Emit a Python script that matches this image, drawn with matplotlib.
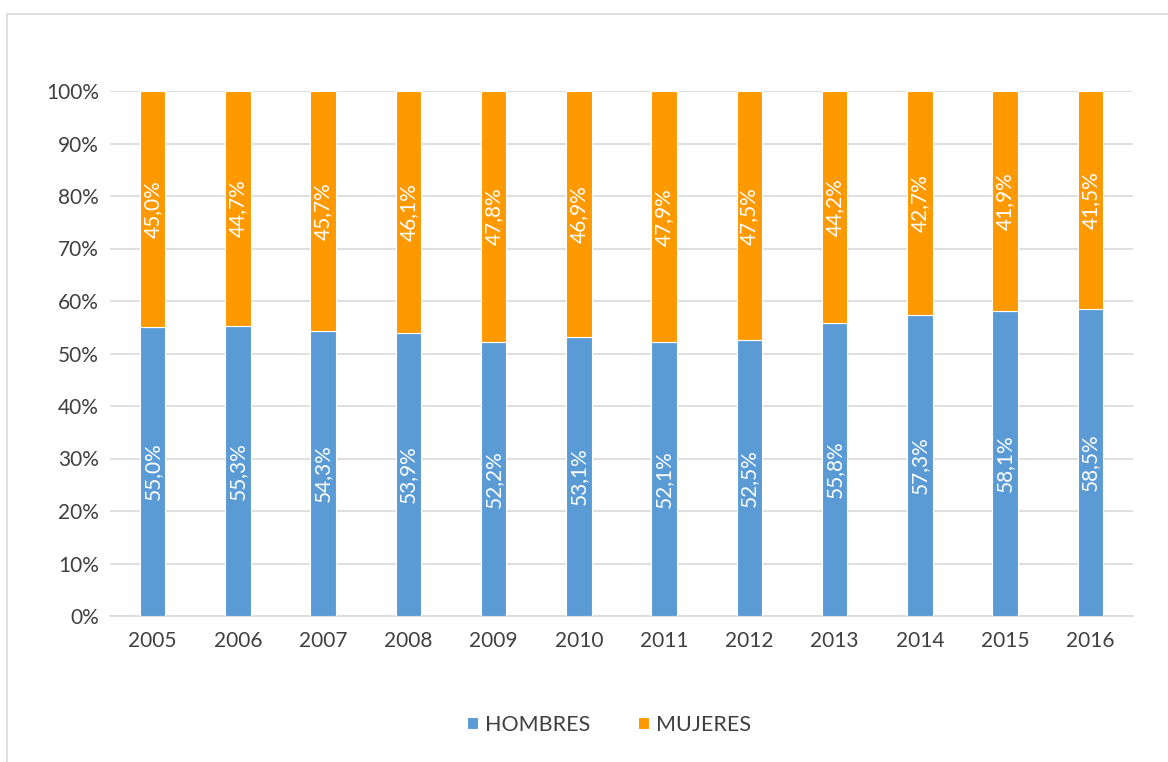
import numpy as np
import matplotlib.pyplot as plt
from matplotlib.patches import Rectangle

years = ["2005", "2006", "2007", "2008", "2009", "2010",
         "2011", "2012", "2013", "2014", "2015", "2016"]
hombres = [55.0, 55.3, 54.3, 53.9, 52.2, 53.1, 52.1, 52.5, 55.8, 57.3, 58.1, 58.5]
mujeres = [45.0, 44.7, 45.7, 46.1, 47.8, 46.9, 47.9, 47.5, 44.2, 42.7, 41.9, 41.5]

plt.rcParams['font.family'] = ['Lato', 'DejaVu Sans']

fig = plt.figure(figsize=(11.68, 7.62), dpi=100)
ax = fig.add_axes([110 / 1168, 1 - 616 / 762, 1023 / 1168, 525 / 762])

x = np.arange(len(years))
blue = "#5B9BD5"
orange = "#FF9900"
b1 = ax.bar(x, hombres, width=0.3, color=blue, edgecolor="white", linewidth=0.8,
            label="HOMBRES", zorder=3)
b2 = ax.bar(x, mujeres, width=0.3, bottom=hombres, color=orange, edgecolor="white",
            linewidth=0.8, label="MUJERES", zorder=3)

for i in range(len(years)):
    ax.text(x[i], hombres[i] / 2, f"{hombres[i]:.1f}%".replace(".", ","),
            rotation=90, ha="center", va="center", color="white", fontsize=15, zorder=4)
    ax.text(x[i], hombres[i] + mujeres[i] / 2, f"{mujeres[i]:.1f}%".replace(".", ","),
            rotation=90, ha="center", va="center", color="white", fontsize=15, zorder=4)

ax.set_xlim(-0.5, len(years) - 0.5)
ax.set_ylim(0, 100)
ax.set_yticks(np.arange(0, 101, 10))
ax.set_yticklabels([f"{v}%" for v in range(0, 101, 10)])
ax.set_xticks(x)
ax.set_xticklabels(years)
ax.tick_params(axis="both", length=0, labelsize=15, colors="#404040")
ax.tick_params(axis="x", pad=11)
ax.tick_params(axis="y", pad=8)
ax.grid(axis="y", color="#D9D9D9", linewidth=1.2, zorder=0)
for s in ["top", "right", "left"]:
    ax.spines[s].set_visible(False)
ax.spines["bottom"].set_color("#D9D9D9")
ax.spines["bottom"].set_linewidth(1.2)

leg = fig.legend(handles=[b1, b2], loc="center", bbox_to_anchor=(609 / 1168, 1 - 725 / 762),
                 ncol=2, frameon=False, fontsize=15.5, handlelength=0.5, handleheight=0.5,
                 columnspacing=2.2, handletextpad=0.35)
for t in leg.get_texts():
    t.set_color("#404040")

fig.patches.append(Rectangle((7 / 1168, -0.01), 1.02, 1 - 14 / 762 + 0.01,
                             transform=fig.transFigure, fill=False,
                             edgecolor="#D9D9D9", linewidth=1.2))

fig.savefig("out.png", dpi=100)
